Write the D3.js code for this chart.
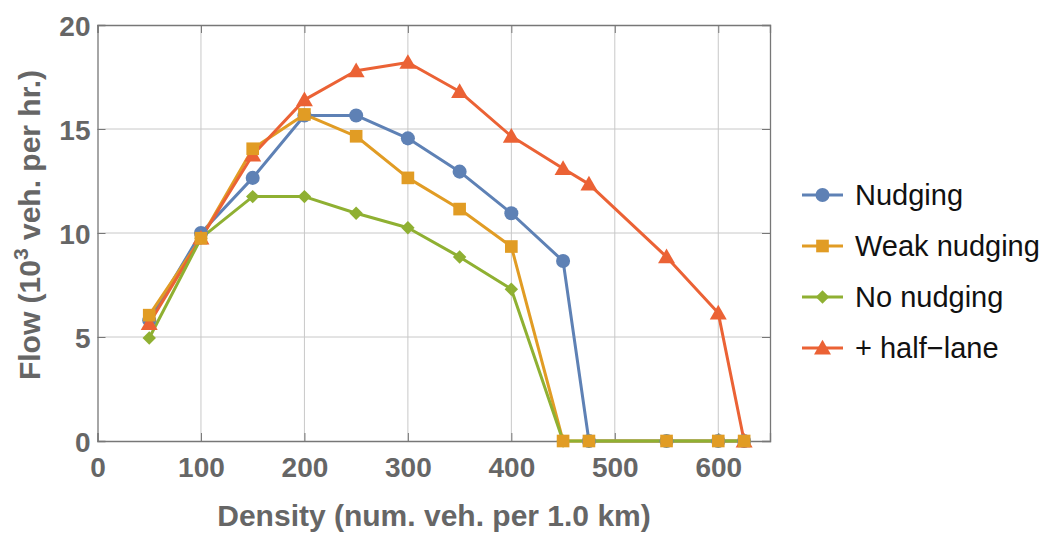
<!DOCTYPE html>
<html>
<head>
<meta charset="utf-8">
<script src="https://cdn.jsdelivr.net/npm/d3@7"></script>
<style>
   body { margin: 0; background: #fff; }
   svg { display: block; font-family: "Liberation Sans", Arial, sans-serif; }
</style>
</head>
<body>
<svg id="chart" width="1042" height="533"></svg>
<script>
// densities (num. veh. per 1.0 km)
var densities = [50, 100, 150, 200, 250, 300, 350, 400, 450, 475, 550, 600, 625];

// flow values (10^3 veh. per hr.)
var nudging     = [5.8, 10.0, 12.65, 15.65, 15.65, 14.55, 12.95, 10.95, 8.65, 0, 0, 0, 0];
var weakNudging = [6.05, 9.75, 14.05, 15.7, 14.65, 12.65, 11.15, 9.35, 0, 0, 0, 0, 0];
var noNudging   = [4.95, 9.75, 11.75, 11.75, 10.95, 10.25, 8.85, 7.3, 0, 0, 0, 0, 0];
var halfLane    = [5.65, 9.75, 13.75, 16.4, 17.8, 18.2, 16.8, 14.65, 13.1, 12.35, 8.85, 6.15, 0];

var seriesNames = ['Nudging', 'Weak nudging', 'No nudging', '+ half\u2212lane'];
var seriesColors = ['#5e81b5', '#e19c24', '#8fb032', '#eb6235'];
var seriesShapes = ['circle', 'square', 'diamond', 'triangle'];

var xTicks = [0, 100, 200, 300, 400, 500, 600];
var yTicks = [0, 5, 10, 15, 20];

var svg = d3.select('#chart');

var bounds = {left: 97.5, right: 770, top: 25, bottom: 441};

var x = d3.scaleLinear().domain([0, 650]).range([bounds.left, bounds.right]);
var y = d3.scaleLinear().domain([0, 20]).range([bounds.bottom, bounds.top]);

var allSeries = [nudging, weakNudging, noNudging, halfLane].map(function (values, i) {
   return {
      name: seriesNames[i],
      color: seriesColors[i],
      shape: seriesShapes[i],
      points: values.map(function (v, j) { return {x: densities[j], y: v}; })
   };
});

// grid
var grid = svg.append('g').attr('class', 'grid');
grid.selectAll('line.gx').data(xTicks.slice(1)).enter().append('line')
   .attr('x1', function (d) { return x(d); }).attr('x2', function (d) { return x(d); })
   .attr('y1', bounds.top).attr('y2', bounds.bottom)
   .attr('stroke', '#c8c8c8').attr('stroke-width', 1);
grid.selectAll('line.gy').data(yTicks.slice(1, -1)).enter().append('line')
   .attr('y1', function (d) { return y(d); }).attr('y2', function (d) { return y(d); })
   .attr('x1', bounds.left).attr('x2', bounds.right)
   .attr('stroke', '#c8c8c8').attr('stroke-width', 1);

// frame ticks, pointing inward
var xMinor = d3.range(0, 651, 20);
var yMinor = d3.range(0, 21, 1);

function frameAxis(axisFn, scale, transform, majors, minors, labels) {
   var g = svg.append('g').attr('transform', transform);
   g.call(axisFn(scale).tickValues(minors).tickSize(-4).tickFormat(''));
   g.call(axisFn(scale).tickValues(majors).tickSize(-8).tickFormat(labels ? null : ''));
   g.selectAll('.domain').attr('stroke', '#777').attr('stroke-width', 1.3);
   g.selectAll('.tick line').attr('stroke', '#777');
   return g;
}

var bottomAxis = frameAxis(d3.axisBottom, x, 'translate(0,' + bounds.bottom + ')', xTicks, xMinor, true);
frameAxis(d3.axisTop, x, 'translate(0,' + bounds.top + ')', xTicks, xMinor, false);
var leftAxis = frameAxis(d3.axisLeft, y, 'translate(' + bounds.left + ',0)', yTicks, yMinor, true);
frameAxis(d3.axisRight, y, 'translate(' + bounds.right + ',0)', yTicks, yMinor, false);

bottomAxis.selectAll('.tick text')
   .attr('y', 36).attr('dy', 0)
   .attr('font-size', 28).attr('font-weight', 'bold').attr('fill', '#666')
   .attr('font-family', '"Liberation Sans", Arial, sans-serif');
leftAxis.selectAll('.tick text')
   .attr('x', -7).attr('dy', '0.36em')
   .attr('font-size', 28).attr('font-weight', 'bold').attr('fill', '#666')
   .attr('font-family', '"Liberation Sans", Arial, sans-serif');

// axis titles
svg.append('text')
   .attr('x', 434).attr('y', 526)
   .attr('text-anchor', 'middle')
   .attr('font-size', 30).attr('font-weight', 'bold').attr('fill', '#666')
   .text('Density (num. veh. per 1.0 km)');

var yTitle = svg.append('text')
   .attr('transform', 'translate(40,225) rotate(-90)')
   .attr('text-anchor', 'middle')
   .attr('font-size', 30).attr('font-weight', 'bold').attr('fill', '#666');
yTitle.append('tspan').text('Flow (10');
yTitle.append('tspan').attr('font-size', 21).attr('dy', -12).text('3');
yTitle.append('tspan').attr('dy', 12).text(' veh. per hr.)');

// markers
var symbolTypes = {
   circle: d3.symbolCircle,
   square: d3.symbolSquare,
   diamond: d3.symbolDiamond2,
   triangle: d3.symbolTriangle
};
var symbolSizes = {circle: 155, square: 160, diamond: 115, triangle: 125};

function markerPath(shape) {
   return d3.symbol().type(symbolTypes[shape]).size(symbolSizes[shape])();
}

var line = d3.line()
   .x(function (d) { return x(d.x); })
   .y(function (d) { return y(d.y); });

var plot = svg.append('g');
var lineOrder = [0, 1, 3, 2];
lineOrder.forEach(function (i) {
   var s = allSeries[i];
   plot.append('path')
      .datum(s.points)
      .attr('fill', 'none')
      .attr('stroke', s.color)
      .attr('stroke-width', 3)
      .attr('stroke-linejoin', 'round')
      .attr('d', line);
});

var markerOrder = [0, 2, 3, 1];
markerOrder.forEach(function (i) {
   var s = allSeries[i];
   plot.append('g').selectAll('path')
      .data(s.points)
      .enter().append('path')
      .attr('transform', function (d) {
         return 'translate(' + x(d.x) + ',' + (y(d.y) + (s.shape === 'triangle' ? 1.5 : 0)) + ')';
      })
      .attr('d', markerPath(s.shape))
      .attr('fill', s.color);
});

// legend
var legend = svg.append('g').attr('transform', 'translate(802,195)');
var legendItem = legend.selectAll('.legendItem')
   .data(allSeries)
   .enter().append('g')
   .attr('class', 'legendItem')
   .attr('transform', function (d, i) { return 'translate(0,' + i * 51 + ')'; });

legendItem.append('line')
   .attr('x1', 0).attr('x2', 41).attr('y1', 0).attr('y2', 0)
   .attr('stroke', function (d) { return d.color; })
   .attr('stroke-width', 3);
legendItem.append('path')
   .attr('transform', function (d) { return 'translate(20.5,' + (d.shape === 'triangle' ? 1.5 : 0) + ')'; })
   .attr('d', function (d) { return markerPath(d.shape); })
   .attr('fill', function (d) { return d.color; });
legendItem.append('text')
   .attr('x', 53).attr('dy', '0.35em')
   .attr('font-size', 29).attr('fill', '#111')
   .text(function (d) { return d.name; });
</script>
</body>
</html>
